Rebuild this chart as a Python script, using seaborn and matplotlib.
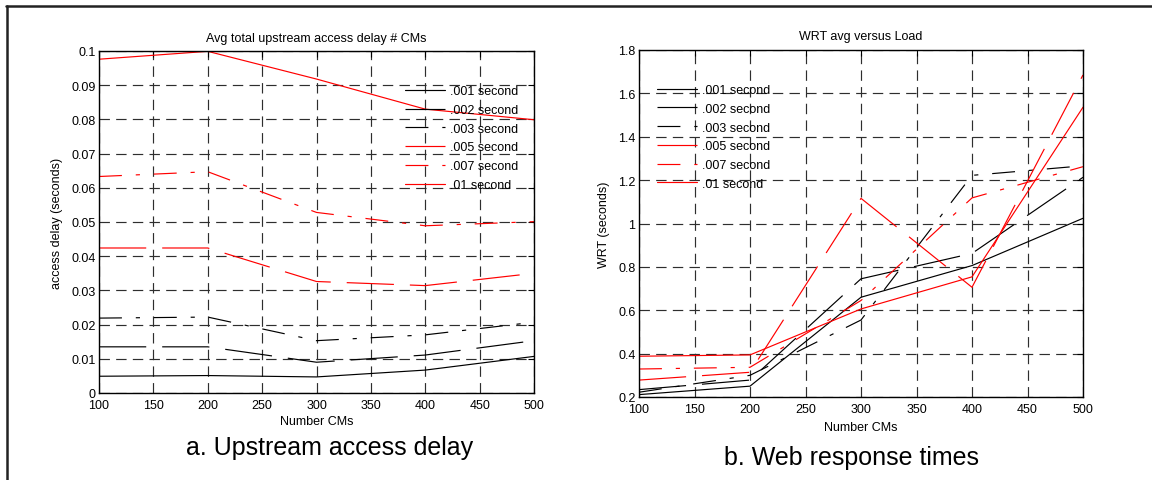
import matplotlib
matplotlib.use("Agg")
import matplotlib.pyplot as plt
from matplotlib.lines import Line2D
import pandas as pd
import seaborn as sns

# ---------------- data ----------------
x_cms = [100, 200, 300, 400, 500]
series_labels = [".001 second", ".002 second", ".003 second",
                 ".005 second", ".007 second", ".01 second"]

# panel a: average total upstream access delay (seconds)
delay_001 = [0.0049, 0.0051, 0.0047, 0.0067, 0.0107]
delay_002 = [0.0135, 0.0135, 0.0090, 0.0111, 0.0153]
delay_003 = [0.0219, 0.0222, 0.0153, 0.0170, 0.0207]
delay_005 = [0.0424, 0.0424, 0.0326, 0.0314, 0.0350]
delay_007 = [0.0633, 0.0647, 0.0528, 0.0489, 0.0501]
delay_01 = [0.0976, 0.0999, 0.0918, 0.0830, 0.0799]

# panel b: web response time (seconds)
wrt_001 = [0.211, 0.250, 0.660, 0.806, 1.024]
wrt_002 = [0.234, 0.278, 0.745, 0.862, 1.213]
wrt_003 = [0.222, 0.300, 0.555, 1.222, 1.266]
wrt_005 = [0.278, 0.314, 1.116, 0.706, 1.685]
wrt_007 = [0.329, 0.337, 0.645, 1.118, 1.262]
wrt_01 = [0.388, 0.394, 0.606, 0.754, 1.536]

x_ticks = [100, 150, 200, 250, 300, 350, 400, 450, 500]
x_tick_labels = ["100", "150", "200", "250", "300", "350", "400", "450", "500"]
yL_ticks = [0, 0.01, 0.02, 0.03, 0.04, 0.05, 0.06, 0.07, 0.08, 0.09, 0.1]
yL_tick_labels = ["0", "0.01", "0.02", "0.03", "0.04", "0.05", "0.06",
                  "0.07", "0.08", "0.09", "0.1"]
yR_ticks = [0.2, 0.4, 0.6, 0.8, 1.0, 1.2, 1.4, 1.6, 1.8]
yR_tick_labels = ["0.2", "0.4", "0.6", "0.8", "1", "1.2", "1.4", "1.6", "1.8"]

# ---------------- style ----------------
sns.set_theme(style="white")
plt.rcParams["font.family"] = ["Liberation Sans", "DejaVu Sans"]
plt.rcParams["lines.scale_dashes"] = False
plt.rcParams["axes.edgecolor"] = "black"
plt.rcParams["text.color"] = "black"
plt.rcParams["axes.labelcolor"] = "black"
plt.rcParams["xtick.color"] = "black"
plt.rcParams["ytick.color"] = "black"

SOLID = "-"
LONGDASH = (0, (34, 11.5))
DASHDOT = (0, (16.5, 10, 3, 10))
colors = ["black", "black", "black", "#ff0000", "#ff0000", "#ff0000"]
lstyles = [SOLID, LONGDASH, DASHDOT, LONGDASH, DASHDOT, SOLID]

fig = plt.figure(figsize=(11.52, 4.81), dpi=100)
axL = fig.add_axes([99 / 1152, 1 - 394 / 481, 435 / 1152, 342 / 481])
axR = fig.add_axes([639 / 1152, 1 - 398 / 481, 444 / 1152, 347 / 481])


def draw(ax, series, title, ylabel, yticks, yticklabels, ylim,
         leg_anchor, ylab_x, xlab_y, title_pad):
    for vals, lab, c, ls in zip(series, series_labels, colors, lstyles):
        df = pd.DataFrame({"cms": x_cms, "val": vals})
        sns.lineplot(data=df, x="cms", y="val", ax=ax, color=c,
                     linestyle=ls, linewidth=0.85, label=lab, legend=False)
    ax.set_xlim(100, 500)
    ax.set_ylim(*ylim)
    ax.set_xticks(x_ticks)
    ax.set_xticklabels(x_tick_labels)
    ax.set_yticks(yticks)
    ax.set_yticklabels(yticklabels)
    ax.set_axisbelow(True)
    ax.grid(True, color="#2e2e2e", linestyle=(0, (7.5, 4.5)), linewidth=0.85)
    ax.tick_params(axis="both", which="both", direction="in", length=4,
                   width=0.8, top=True, right=True, labelsize=9)
    ax.tick_params(axis="x", pad=4)
    ax.tick_params(axis="y", pad=2.5)
    for s in ax.spines.values():
        s.set_color("black")
        s.set_linewidth(1.0)
    ax.set_title(title, fontsize=9, pad=title_pad)
    ax.set_xlabel("Number CMs", fontsize=9)
    ax.set_ylabel(ylabel, fontsize=9)
    ax.xaxis.set_label_coords(0.5, xlab_y)
    ax.yaxis.set_label_coords(ylab_x, 0.5)
    handles = ax.get_lines()[:6]
    ax.legend(handles, series_labels, loc="upper left",
              bbox_to_anchor=leg_anchor, frameon=False, fontsize=9,
              handlelength=3.2, handletextpad=0.4, labelspacing=0.54,
              borderpad=0, borderaxespad=0)


draw(axL, [delay_001, delay_002, delay_003, delay_005, delay_007, delay_01],
     "Avg total upstream access delay # CMs", "access delay (seconds)",
     yL_ticks, yL_tick_labels, (0, 0.1), (0.703, 0.900), -0.083, -0.064, 7.0)
draw(axR, [wrt_001, wrt_002, wrt_003, wrt_005, wrt_007, wrt_01],
     "WRT avg versus Load", "WRT (seconds)",
     yR_ticks, yR_tick_labels, (0.2, 1.8), (0.0405, 0.902), -0.065, -0.069, 8.0)

# captions
fig.text(330 / 1152, 1 - 455 / 481, "a. Upstream access delay",
         ha="center", va="baseline", fontsize=18)
fig.text(852 / 1152, 1 - 465 / 481, "b. Web response times",
         ha="center", va="baseline", fontsize=18)

# outer border (top and left only)
fig.add_artist(Line2D([6 / 1152, 1], [1 - 7 / 481, 1 - 7 / 481],
                      transform=fig.transFigure, color="#222222", lw=1.8))
fig.add_artist(Line2D([6.5 / 1152, 6.5 / 1152], [0, 1 - 7 / 481],
                      transform=fig.transFigure, color="#222222", lw=1.8))

fig.savefig("out.png", dpi=100, facecolor="white")
